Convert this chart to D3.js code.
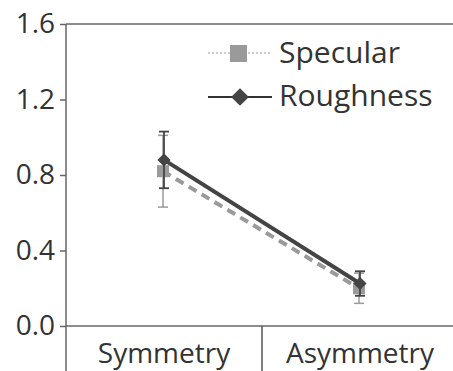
<!DOCTYPE html>
<html>
<head>
<meta charset="utf-8">
<script src="https://cdn.jsdelivr.net/npm/d3@7"></script>
<style>
  body { margin: 0; background: #fff; }
  text { font-family: "Open Sans", sans-serif; fill: #333; }
</style>
</head>
<body>
<div id="chart"></div>
<script>
var categories = ["Symmetry", "Asymmetry"];
var specularMean = [0.82, 0.20];
var specularErr = [0.19, 0.08];
var roughnessMean = [0.88, 0.225];
var roughnessErr = [0.15, 0.065];
var yTicks = [0, 0.4, 0.8, 1.2, 1.6];

var w = 453, h = 371;
var padLeft = 66, padTop = 24, padBottom = 326;

var svg = d3.select("#chart").append("svg")
  .attr("width", w).attr("height", h);

var xScale = d3.scaleBand().domain(categories).range([padLeft, 458]);
var yScale = d3.scaleLinear().domain([0, 1.6]).range([padBottom, padTop]);

// y axis
var yAxis = d3.axisLeft(yScale).tickValues(yTicks).tickFormat(d3.format(".1f")).tickSize(6).tickPadding(5);
var gy = svg.append("g").attr("transform", "translate(" + padLeft + ",0)").call(yAxis);
gy.select(".domain").remove();
gy.selectAll(".tick line").attr("stroke", "#666").attr("stroke-width", 1.5);
gy.selectAll(".tick text").style("font-size", "28px").attr("fill", "#333");

// frame lines
svg.append("line").attr("x1", padLeft).attr("x2", padLeft).attr("y1", padTop).attr("y2", h)
  .attr("stroke", "#666").attr("stroke-width", 1.5);
[0, 1.6].forEach(function(v) {
  svg.append("line").attr("x1", padLeft).attr("x2", w).attr("y1", yScale(v)).attr("y2", yScale(v))
    .attr("stroke", "#666").attr("stroke-width", 1.5);
});
// category divider
svg.append("line").attr("x1", xScale("Asymmetry")).attr("x2", xScale("Asymmetry"))
  .attr("y1", padBottom).attr("y2", h).attr("stroke", "#555").attr("stroke-width", 1.5);

// category labels
svg.selectAll(".cat").data(categories).enter().append("text")
  .attr("x", function(d) { return xScale(d) + xScale.bandwidth() / 2; })
  .attr("y", 363)
  .attr("text-anchor", "middle")
  .style("font-size", "28px")
  .text(function(d) { return d; });

function cx(i) { return xScale(categories[i]) + xScale.bandwidth() / 2; }

function drawSeries(means, errs, color, lineW, dash, errW, dx) {
  var line = d3.line().x(function(d, i) { return cx(i) + dx; }).y(function(d) { return yScale(d); });
  svg.append("path").datum(means).attr("d", line).attr("fill", "none")
    .attr("stroke", color).attr("stroke-width", lineW).attr("stroke-dasharray", dash);
  means.forEach(function(m, i) {
    var x = cx(i) + dx;
    var g = svg.append("g").attr("stroke", color).attr("stroke-width", errW);
    g.append("line").attr("x1", x).attr("x2", x).attr("y1", yScale(m - errs[i])).attr("y2", yScale(m + errs[i]));
    g.append("line").attr("x1", x - 5).attr("x2", x + 5).attr("y1", yScale(m - errs[i])).attr("y2", yScale(m - errs[i]));
    g.append("line").attr("x1", x - 5).attr("x2", x + 5).attr("y1", yScale(m + errs[i])).attr("y2", yScale(m + errs[i]));
  });
}

drawSeries(specularMean, specularErr, "#9a9a9a", 4, "9,6", 1.5, -1);
specularMean.forEach(function(m, i) {
  svg.append("rect").attr("x", cx(i) - 1 - 6).attr("y", yScale(m) - 6)
    .attr("width", 12).attr("height", 12).attr("fill", "#9a9a9a");
});
drawSeries(roughnessMean, roughnessErr, "#444", 4, null, 1.8, 0);
roughnessMean.forEach(function(m, i) {
  svg.append("path").attr("d", d3.symbol().type(d3.symbolDiamond2).size(110)())
    .attr("transform", "translate(" + cx(i) + "," + yScale(m) + ")").attr("fill", "#444");
});

// legend
var lg = svg.append("g");
lg.append("line").attr("x1", 208).attr("x2", 272).attr("y1", 53).attr("y2", 53)
  .attr("stroke", "#9a9a9a").attr("stroke-width", 1.2).attr("stroke-dasharray", "2,2");
lg.append("rect").attr("x", 230).attr("y", 45).attr("width", 17).attr("height", 17).attr("fill", "#9a9a9a");
lg.append("text").attr("x", 279).attr("y", 63).style("font-size", "30px").text("Specular");
lg.append("line").attr("x1", 208).attr("x2", 272).attr("y1", 97).attr("y2", 97)
  .attr("stroke", "#333").attr("stroke-width", 2);
lg.append("path").attr("d", d3.symbol().type(d3.symbolDiamond2).size(200)())
  .attr("transform", "translate(240,97)").attr("fill", "#444");
lg.append("text").attr("x", 279).attr("y", 106).style("font-size", "30px").text("Roughness");
</script>
</body>
</html>
